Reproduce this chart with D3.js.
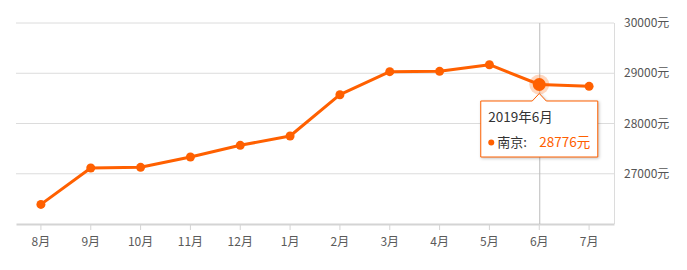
<!DOCTYPE html>
<html>
<head>
<meta charset="utf-8">
<script src="https://cdn.jsdelivr.net/npm/d3@7"></script>
<style>
  body { margin: 0; background: #fff; }
  svg { font-family: "Microsoft YaHei", "Noto Sans CJK SC", sans-serif; }
</style>
</head>
<body>
<div class="chart"></div>
<script>
// monthly prices, Nanjing (元/㎡)
const months = ["8月", "9月", "10月", "11月", "12月", "1月", "2月", "3月", "4月", "5月", "6月", "7月"];
const prices = [26390, 27114, 27128, 27333, 27566, 27751, 28573, 29031, 29038, 29170, 28776, 28740];
const yTicks = [27000, 28000, 29000, 30000];
const cityName = "南京";
const activeIndex = 10;
const activeLabel = "2019年6月";

const width = 687,
  height = 270,
  margin = { top: 23, right: 73, bottom: 46, left: 16 };

const orange = "#ff6000";

const svg = d3
  .select(".chart")
  .append("svg")
  .attr("width", width)
  .attr("height", height);

const x = d3
  .scaleBand()
  .domain(months)
  .range([margin.left, width - margin.right]);

const y = d3
  .scaleLinear()
  .domain([26000, 30000])
  .range([height - margin.bottom, margin.top]);

const cx = d => x(d) + x.bandwidth() / 2;

// grid lines
svg
  .append("g")
  .selectAll("line")
  .data(yTicks)
  .join("line")
  .attr("x1", margin.left)
  .attr("x2", width - margin.right)
  .attr("y1", d => y(d))
  .attr("y2", d => y(d))
  .attr("stroke", "#dcdcdc")
  .attr("stroke-width", 1);

// right border
svg
  .append("line")
  .attr("x1", width - margin.right + 0.5)
  .attr("x2", width - margin.right + 0.5)
  .attr("y1", margin.top)
  .attr("y2", height - margin.bottom)
  .attr("stroke", "#dcdcdc");

// y labels on the right
svg
  .append("g")
  .selectAll("text")
  .data(yTicks)
  .join("text")
  .attr("x", width - margin.right + 10)
  .attr("y", d => y(d))
  .attr("dy", "0.35em")
  .attr("fill", "#555")
  .attr("font-size", "12px")
  .text(d => d + "元");

// x axis
const xAxis = svg
  .append("g")
  .attr("transform", `translate(0,${height - margin.bottom})`)
  .call(d3.axisBottom(x).tickSize(5).tickPadding(8).tickSizeOuter(0));

xAxis.select(".domain").attr("stroke", "#d4d4d4").attr("stroke-width", 2);
xAxis.selectAll(".tick line").attr("stroke", "#d4d4d4").attr("transform", "translate(0,1)");
xAxis
  .selectAll(".tick text")
  .attr("fill", "#5a5a5a")
  .attr("font-size", "12px")
  .attr("font-family", "\"Microsoft YaHei\", \"Noto Sans CJK SC\", sans-serif");

// crosshair
svg
  .append("line")
  .attr("x1", cx(months[activeIndex]) + 0.5)
  .attr("x2", cx(months[activeIndex]) + 0.5)
  .attr("y1", margin.top)
  .attr("y2", height - margin.bottom)
  .attr("stroke", "#bbb");

// the line
const line = d3
  .line()
  .x((d, i) => cx(months[i]))
  .y(d => y(d));

svg
  .append("path")
  .datum(prices)
  .attr("fill", "none")
  .attr("stroke", orange)
  .attr("stroke-width", 3)
  .attr("stroke-linejoin", "round")
  .attr("d", line);

svg
  .append("g")
  .selectAll("circle")
  .data(prices)
  .join("circle")
  .attr("cx", (d, i) => cx(months[i]))
  .attr("cy", d => y(d))
  .attr("r", 4.5)
  .attr("fill", orange);

// highlighted point
const ax = cx(months[activeIndex]),
  ay = y(prices[activeIndex]);

svg
  .append("circle")
  .attr("cx", ax)
  .attr("cy", ay)
  .attr("r", 10)
  .attr("fill", orange)
  .attr("fill-opacity", 0.25);

svg
  .append("circle")
  .attr("cx", ax)
  .attr("cy", ay)
  .attr("r", 6.5)
  .attr("fill", orange);

// tooltip
const tipW = 118,
  tipH = 57,
  tipX = ax - 59,
  tipY = ay + 16;

const tip = svg.append("g").attr("transform", `translate(${tipX},${tipY})`);

tip
  .append("path")
  .attr(
    "d",
    `M0.5,0.5 H${59 - 7} L59,-7 L${59 + 7},0.5 H${tipW - 0.5} V${tipH - 0.5} H0.5 Z`
  )
  .attr("fill", "#fff")
  .attr("stroke", orange)
  .attr("stroke-width", 1)
  .style("filter", "drop-shadow(1px 1px 1.5px rgba(0,0,0,0.25))");

tip
  .append("text")
  .attr("x", 8)
  .attr("y", 21)
  .attr("fill", "#333")
  .attr("font-size", "13.5px")
  .text(activeLabel);

tip
  .append("circle")
  .attr("cx", 11)
  .attr("cy", 42)
  .attr("r", 3)
  .attr("fill", orange);

tip
  .append("text")
  .attr("x", 17)
  .attr("y", 46)
  .attr("fill", "#333")
  .attr("font-size", "13px")
  .text(cityName + ":");

tip
  .append("text")
  .attr("x", 59)
  .attr("y", 46)
  .attr("fill", orange)
  .attr("font-size", "13.5px")
  .text(prices[activeIndex] + "元");
</script>
</body>
</html>
